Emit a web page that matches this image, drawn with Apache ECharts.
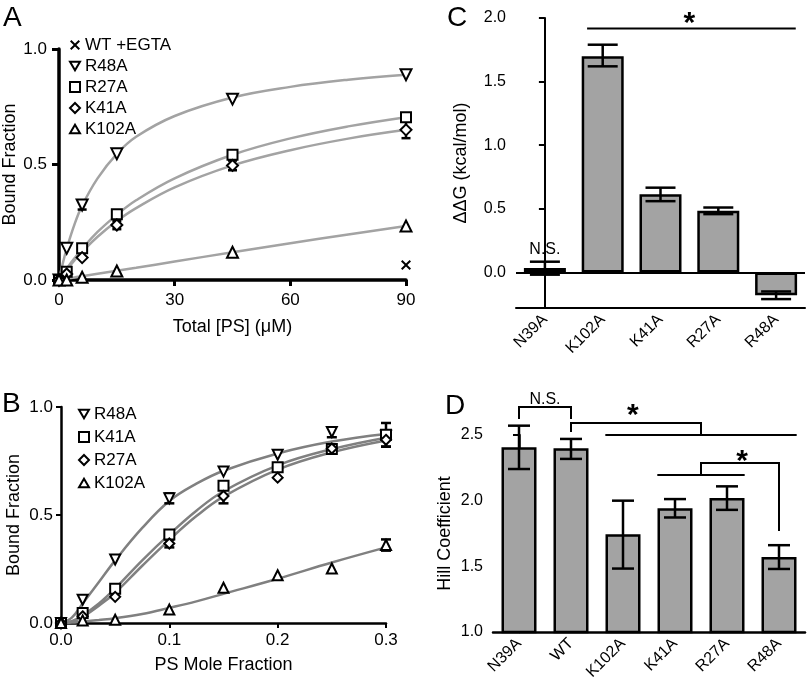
<!DOCTYPE html>
<html><head><meta charset="utf-8">
<script src="https://cdn.jsdelivr.net/npm/echarts@6/dist/echarts.min.js"></script>
<style>html,body{margin:0;padding:0;background:#fff}#c{width:810px;height:692px}</style>
</head><body><div id="c"></div>
<script>
// ---------- Panel A: Bound fraction vs Total [PS] (uM) ----------
const aX = [0, 2, 6, 15, 45, 90];
const aR48A = [0, 0.137, 0.325, 0.546, 0.783, 0.889];
const aR27A = [0, 0.036, 0.137, 0.285, 0.542, 0.705];
const aK41A = [0, 0.026, 0.097, 0.238, 0.496, 0.650];
const aK102A = [0, 0.0, 0.012, 0.039, 0.120, 0.234];
const aWTx = [0, 90];
const aWT = [0, 0.065];
const aErr = [[6, 0.305, 0.345], [15, 0.220, 0.256], [45, 0.475, 0.517], [90, 0.614, 0.686]];
const aCurveX = [0, 1, 2, 4, 6, 10, 15, 20, 30, 45, 60, 75, 90];
const aCurveR48A = [0, 0.073, 0.136, 0.24, 0.322, 0.44, 0.546, 0.62, 0.71, 0.79, 0.836, 0.867, 0.889];
const aCurveR27A = [0, 0.026, 0.05, 0.094, 0.135, 0.208, 0.282, 0.345, 0.44, 0.542, 0.613, 0.665, 0.705];
const aCurveK41A = [0, 0.023, 0.044, 0.085, 0.122, 0.187, 0.255, 0.311, 0.401, 0.496, 0.562, 0.612, 0.65];
const aCurveK102A = [0, 0.003, 0.005, 0.011, 0.016, 0.027, 0.04, 0.053, 0.08, 0.12, 0.159, 0.197, 0.234];

// ---------- Panel B: Bound fraction vs PS mole fraction ----------
const bX = [0, 0.02, 0.05, 0.1, 0.15, 0.2, 0.25, 0.3];
const bR48A = [0, 0.108, 0.294, 0.577, 0.701, 0.779, 0.884, 0.867];
const bK41A = [0, 0.046, 0.159, 0.410, 0.635, 0.721, 0.805, 0.871];
const bR27A = [0, 0.031, 0.121, 0.368, 0.588, 0.673, 0.808, 0.848];
const bK102A = [0, 0.012, 0.015, 0.062, 0.163, 0.221, 0.252, 0.361];
const bErr = [[0.1, 0.554, 0.600], [0.25, 0.860, 0.905], [0.3, 0.816, 0.926], [0.3, 0.817, 0.879],
              [0.15, 0.554, 0.622], [0.1, 0.350, 0.386], [0.3, 0.335, 0.387]];
const bCurveX = [0, 0.01, 0.02, 0.035, 0.05, 0.075, 0.1, 0.125, 0.15, 0.2, 0.25, 0.3];
const bCurveR48A = [0, 0.025, 0.09, 0.19, 0.29, 0.44, 0.565, 0.645, 0.705, 0.785, 0.84, 0.875];
const bCurveK41A = [0, 0.008, 0.035, 0.09, 0.16, 0.29, 0.41, 0.52, 0.61, 0.73, 0.805, 0.858];
const bCurveR27A = [0, 0.006, 0.028, 0.08, 0.14, 0.265, 0.385, 0.495, 0.585, 0.71, 0.79, 0.845];
const bCurveK102A = [0, 0.002, 0.007, 0.014, 0.022, 0.042, 0.07, 0.1, 0.135, 0.205, 0.28, 0.35];

// ---------- Panel C: ddG (kcal/mol) ----------
const cCats = ['N39A', 'K102A', 'K41A', 'R27A', 'R48A'];
const cVals = [0.035, 1.70, 0.615, 0.484, -0.18];
const cLo = [-0.018, 1.62, 0.56, 0.458, -0.21];
const cHi = [0.084, 1.79, 0.666, 0.51, -0.15];
const cTicks = [0, 0.5, 1.0, 1.5, 2.0];
const cLines = [[[0.73, 1.918], [4.34, 1.918]]];
const cTexts = [[2.5, 2.0, '*'], [0, 0.18, 'N.S.']];

// ---------- Panel D: Hill coefficient ----------
const dCats = ['N39A', 'WT', 'K102A', 'K41A', 'R27A', 'R48A'];
const dVals = [2.406, 2.40, 1.745, 1.943, 2.02, 1.572];
const dLo = [2.241, 2.318, 1.483, 1.872, 1.93, 1.48];
const dHi = [2.571, 2.47, 2.0, 2.012, 2.109, 1.661];
const dLines = [
  [[0, 2.622], [0, 2.714], [1, 2.714], [1, 2.622]],
  [[1, 2.523], [1, 2.592], [3.5, 2.592], [3.5, 2.5]],
  [[1.66, 2.5], [5.34, 2.5]],
  [[3.5, 2.196], [3.5, 2.287], [5, 2.287], [5, 1.769]],
  [[2.66, 2.196], [4.34, 2.196]]
];
const dTexts = [[0.5, 2.767, 'N.S.'], [2.19, 2.69, '*'], [4.29, 2.34, '*']];

// ---------- styles ----------
const FONT = "'Liberation Sans', Arial, Helvetica, sans-serif";
const SYM_DOWN = 'path://M0,0L10,0L5,8.7Z';
const SYM_UP = 'path://M5,0L10,8.7L0,8.7Z';
const SYM_X = 'path://M0,1.4L1.4,0L5,3.6L8.6,0L10,1.4L6.4,5L10,8.6L8.6,10L5,6.4L1.4,10L0,8.6L3.6,5Z';
const hollow = {color: '#fff', borderColor: '#000', borderWidth: 2, opacity: 1};
const pts = (xs, ys) => xs.map((x, i) => [x, ys[i]]);

function errRender(cap, lw) {
  return function (params, api) {
    const x = api.value(0), lo = api.value(1), hi = api.value(2);
    const a = api.coord([x, lo]), b = api.coord([x, hi]);
    const st = {stroke: '#000', lineWidth: lw};
    return {type: 'group', children: [
      {type: 'line', shape: {x1: a[0], y1: a[1], x2: b[0], y2: b[1]}, style: st},
      {type: 'line', shape: {x1: a[0] - cap / 2, y1: a[1], x2: a[0] + cap / 2, y2: a[1]}, style: st},
      {type: 'line', shape: {x1: b[0] - cap / 2, y1: b[1], x2: b[0] + cap / 2, y2: b[1]}, style: st}
    ]};
  };
}
function linesSeries(lines, xi, yi) {
  return {type: 'custom', xAxisIndex: xi, yAxisIndex: yi, clip: false, silent: true, z: 10,
    data: lines.map((l, i) => [l[0][0], l[0][1], i]),
    renderItem: (params, api) => ({type: 'polyline',
      shape: {points: lines[api.value(2)].map(p => api.coord(p))},
      style: {stroke: '#000', lineWidth: 2, fill: null}})};
}
function textSeries(texts, xi, yi) {
  return {type: 'custom', xAxisIndex: xi, yAxisIndex: yi, clip: false, silent: true, z: 10,
    data: texts.map((t, i) => [t[0], t[1], i]),
    renderItem: (params, api) => {
      const t = texts[api.value(2)];
      const p = api.coord([t[0], t[1]]);
      const star = t[2] === '*';
      return {type: 'text', x: p[0], y: p[1] + (star ? 6 : 0),
        style: {text: t[2], fill: '#000', align: 'center', verticalAlign: 'middle',
          font: star ? 'bold 30px ' + FONT : '16px ' + FONT}};
    }};
}
function scat(name, data, symbol, size, xi, yi, style) {
  return {type: 'scatter', name, data, symbol, symbolSize: size, xAxisIndex: xi, yAxisIndex: yi,
    itemStyle: style || hollow, z: 5, clip: false, silent: true};
}
function curve(xs, ys, color, xi, yi) {
  return {type: 'line', data: pts(xs, ys), smooth: 0.4, showSymbol: false, xAxisIndex: xi, yAxisIndex: yi,
    lineStyle: {color, width: 2.5}, z: 2, silent: true};
}

const tickLab = (sz, margin, fmt) => ({fontSize: sz, color: '#000', fontFamily: FONT, margin, formatter: fmt});
const f1 = v => v.toFixed(1);
const nameStyle = {fontSize: 18, color: '#000', fontFamily: FONT};
const catLab = {fontSize: 16, color: '#000', fontFamily: FONT, rotate: 45, margin: 9, interval: 0};

const option = {
  animation: false,
  textStyle: {fontFamily: FONT},
  grid: [
    {left: 59, top: 49, right: 404, bottom: 412},
    {left: 61, top: 407, right: 424, bottom: 69},
    {left: 516, top: 18, right: 5, bottom: 384},
    {left: 493, top: 435, right: 5, bottom: 60}
  ],
  xAxis: [
    {gridIndex: 0, type: 'value', min: 0, max: 90, interval: 30, splitLine: {show: false},
      axisLine: {lineStyle: {color: '#000', width: 3.5}}, axisTick: {length: 6, lineStyle: {width: 3}},
      axisLabel: tickLab(17, 12, v => String(v)), name: 'Total [PS] (\u03bcM)', nameLocation: 'middle', nameGap: 38, nameTextStyle: nameStyle},
    {gridIndex: 1, type: 'value', min: 0, max: 0.3, interval: 0.1, splitLine: {show: false},
      axisLine: {lineStyle: {color: '#000', width: 2.5}}, axisTick: {length: 5, lineStyle: {width: 2}},
      axisLabel: tickLab(17, 9, f1), name: 'PS Mole Fraction', nameLocation: 'middle', nameGap: 33, nameTextStyle: nameStyle},
    {gridIndex: 2, type: 'category', data: cCats, axisLine: {onZero: false, lineStyle: {color: '#000', width: 2}},
      axisTick: {alignWithLabel: true, length: 6, lineStyle: {width: 2}}, axisLabel: catLab},
    {gridIndex: 3, type: 'category', data: dCats, axisLine: {onZero: false, lineStyle: {color: '#000', width: 2.5}},
      axisTick: {alignWithLabel: true, length: 6, lineStyle: {width: 2}}, axisLabel: catLab},
    {gridIndex: 2, type: 'value', min: -0.5, max: 4.5, show: false},
    {gridIndex: 3, type: 'value', min: -0.5, max: 5.5, show: false}
  ],
  yAxis: [
    {gridIndex: 0, type: 'value', min: 0, max: 1, interval: 0.5, splitLine: {show: false},
      axisLine: {show: true, lineStyle: {color: '#000', width: 3.5}}, axisTick: {show: true, length: 7, lineStyle: {width: 3}},
      axisLabel: tickLab(17, 12, f1), name: 'Bound Fraction', nameLocation: 'middle', nameGap: 39, nameTextStyle: nameStyle},
    {gridIndex: 1, type: 'value', min: 0, max: 1, interval: 0.5, splitLine: {show: false},
      axisLine: {show: true, lineStyle: {color: '#000', width: 2.5}}, axisTick: {show: true, length: 5, lineStyle: {width: 2}},
      axisLabel: tickLab(17, 8, f1), name: 'Bound Fraction', nameLocation: 'middle', nameGap: 38, nameTextStyle: nameStyle},
    {gridIndex: 2, type: 'value', min: -0.28, max: 2.0, splitLine: {show: false},
      axisLine: {show: true, lineStyle: {color: '#000', width: 2}},
      axisTick: {show: true, length: 6, lineStyle: {width: 2}, customValues: cTicks},
      axisLabel: Object.assign(tickLab(16, 10, f1), {customValues: cTicks}),
      name: '\u0394\u0394G (kcal/mol)', nameLocation: 'middle', nameGap: 46, nameTextStyle: nameStyle},
    {gridIndex: 3, type: 'value', min: 1.0, max: 2.5, interval: 0.5, splitLine: {show: false},
      axisLine: {show: true, lineStyle: {color: '#000', width: 2.5}}, axisTick: {show: true, length: 6, lineStyle: {width: 2}},
      axisLabel: tickLab(16, 10, f1), name: 'Hill Coefficient', nameLocation: 'middle', nameGap: 39, nameTextStyle: nameStyle}
  ],
  legend: [
    {orient: 'vertical', left: 64, top: 30, itemWidth: 10, itemHeight: 10, itemGap: 1, selectedMode: false,
      textStyle: {fontSize: 17, color: '#000', fontFamily: FONT, lineHeight: 20},
      itemStyle: hollow,
      data: [
        {name: 'WT +EGTA', icon: SYM_X, itemStyle: {color: '#000', borderWidth: 0, opacity: 1}},
        {name: 'R48A', icon: SYM_DOWN}, {name: 'R27A', icon: 'rect'},
        {name: 'K41A', icon: 'diamond'}, {name: 'K102A', icon: SYM_UP}]},
    {orient: 'vertical', left: 73, top: 399, itemWidth: 10, itemHeight: 10, itemGap: 3, selectedMode: false,
      textStyle: {fontSize: 17, color: '#000', fontFamily: FONT, lineHeight: 20},
      itemStyle: hollow,
      data: [
        {name: 'R48A', icon: SYM_DOWN}, {name: 'K41A', icon: 'rect'},
        {name: 'R27A', icon: 'diamond'}, {name: 'K102A', icon: SYM_UP}]}
  ],
  graphic: [
    {type: 'text', left: 3, top: 4, style: {text: 'A', font: '28px ' + FONT, fill: '#000'}},
    {type: 'text', left: 2, top: 390, style: {text: 'B', font: '28px ' + FONT, fill: '#000'}},
    {type: 'text', left: 447, top: 4, style: {text: 'C', font: '28px ' + FONT, fill: '#000'}},
    {type: 'text', left: 445, top: 392, style: {text: 'D', font: '28px ' + FONT, fill: '#000'}}
  ],
  series: [
    // Panel A
    curve(aCurveX, aCurveR48A, '#a3a3a3', 0, 0),
    curve(aCurveX, aCurveR27A, '#a3a3a3', 0, 0),
    curve(aCurveX, aCurveK41A, '#a3a3a3', 0, 0),
    curve(aCurveX, aCurveK102A, '#a3a3a3', 0, 0),
    {type: 'custom', xAxisIndex: 0, yAxisIndex: 0, renderItem: errRender(9, 2.5), data: aErr, z: 4, clip: false, silent: true},
    scat('WT +EGTA', pts(aWTx, aWT), SYM_X, 10, 0, 0, {color: '#000', opacity: 1}),
    scat('R48A', pts(aX, aR48A), SYM_DOWN, 11, 0, 0),
    scat('R27A', pts(aX, aR27A), 'rect', 10, 0, 0),
    scat('K41A', pts(aX, aK41A), 'diamond', 11, 0, 0),
    scat('K102A', pts(aX, aK102A), SYM_UP, 11, 0, 0),
    // Panel B
    curve(bCurveX, bCurveR48A, '#808080', 1, 1),
    curve(bCurveX, bCurveK41A, '#808080', 1, 1),
    curve(bCurveX, bCurveR27A, '#808080', 1, 1),
    curve(bCurveX, bCurveK102A, '#808080', 1, 1),
    {type: 'custom', xAxisIndex: 1, yAxisIndex: 1, renderItem: errRender(10, 2.5), data: bErr, z: 4, clip: false, silent: true},
    scat('R48A', pts(bX, bR48A), SYM_DOWN, 10, 1, 1),
    scat('K41A', pts(bX, bK41A), 'rect', 10, 1, 1),
    scat('R27A', pts(bX, bR27A), 'diamond', 10, 1, 1),
    scat('K102A', pts(bX, bK102A), SYM_UP, 10, 1, 1),
    // Panel C
    {type: 'bar', xAxisIndex: 2, yAxisIndex: 2, data: cVals, barWidth: 42, silent: true,
      itemStyle: {color: '#a3a3a3', borderColor: '#000', borderWidth: 2.5},
      markLine: {silent: true, symbol: 'none', label: {show: false}, lineStyle: {color: '#000', width: 2, type: 'solid'},
        data: [{yAxis: 0}]}},
    {type: 'custom', xAxisIndex: 2, yAxisIndex: 2, renderItem: errRender(30, 2.5), z: 6, silent: true,
      data: cCats.map((c, i) => [i, cLo[i], cHi[i]])},
    linesSeries(cLines, 4, 2),
    textSeries(cTexts, 4, 2),
    // Panel D
    {type: 'bar', xAxisIndex: 3, yAxisIndex: 3, data: dVals, barWidth: 35, silent: true,
      itemStyle: {color: '#a3a3a3', borderColor: '#000', borderWidth: 2.5}},
    {type: 'custom', xAxisIndex: 3, yAxisIndex: 3, renderItem: errRender(22, 2.5), z: 6, silent: true,
      data: dCats.map((c, i) => [i, dLo[i], dHi[i]])},
    linesSeries(dLines, 5, 3),
    textSeries(dTexts, 5, 3)
  ]
};
const chart = echarts.init(document.getElementById('c'), null, {renderer: 'canvas'});
chart.setOption(option);
</script></body></html>
